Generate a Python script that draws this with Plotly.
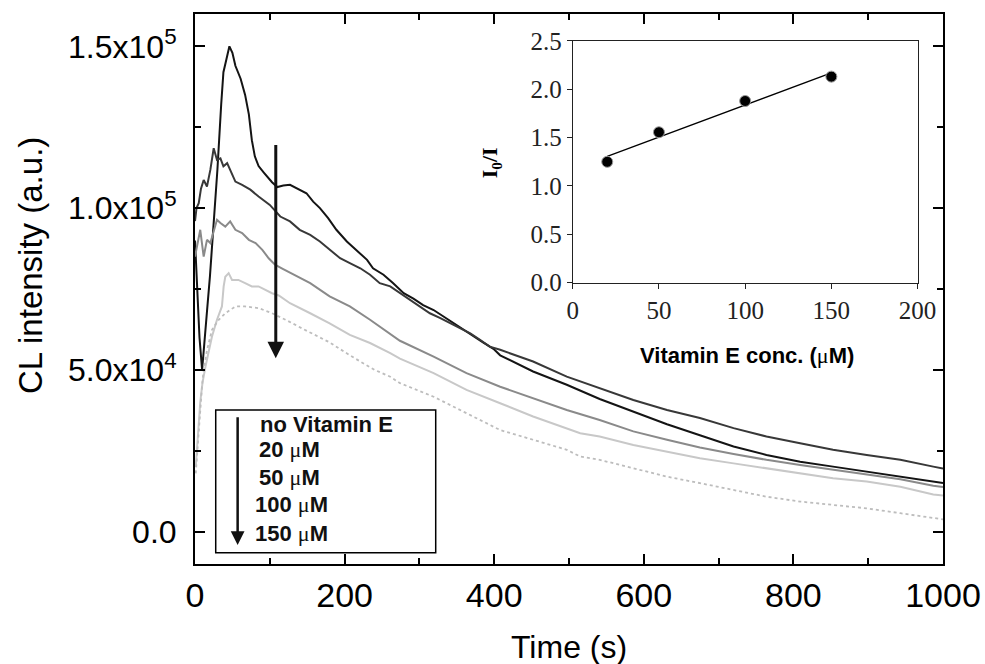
import numpy as np
import plotly.graph_objects as go

# ---------------- main panel data ----------------
t_novit = [0, 3, 6, 9.5, 12, 16, 20, 26, 30, 35, 38, 42, 46, 50, 54, 61, 67, 72, 76, 80, 85, 92,
           103, 110, 118, 127, 140, 149, 158, 167, 178, 189, 203, 216, 230, 238, 252, 265, 279,
           292, 305, 319, 332, 345, 359, 372, 385, 399, 408, 452, 497, 541, 586, 631, 675, 720,
           764, 809, 853, 898, 943, 987, 1000]
cl_novit = [90000, 75000, 60000, 50000, 56000, 68000, 79000, 98000, 112000, 132000, 142000, 146000,
            150000, 148000, 144000, 140000, 135000, 129000, 121000, 116000, 113000, 111000,
            108000, 106500, 107000, 107200, 105600, 104600, 102000, 100000, 96900, 93300, 89700,
            87100, 84000, 81400, 79400, 76800, 73700, 72000, 70000, 68500, 66500, 64400, 62400,
            60500, 58500, 56500, 54500, 49500, 45400, 41000, 37000, 33200, 29800, 26300,
            23700, 21600, 20100, 18600, 17000, 15500, 15000]

t_20 = [0, 2, 5, 8, 11.6, 16, 20.5, 25, 29.4, 34, 38, 43, 47, 54, 63, 74, 85, 100, 114, 127, 140,
        154, 167, 180, 194, 207, 221, 234, 247, 261, 274, 287, 301, 314, 328, 341, 354, 368, 381,
        394, 408, 452, 497, 541, 586, 631, 675, 720, 764, 809, 853, 898, 943, 987, 1000]
cl_20 = [96000, 100000, 101500, 106000, 108700, 106700, 111800, 118500, 114900, 115400, 112900,
         113900, 111800, 108200, 107200, 105700, 103600, 101000, 97400, 95900, 93300, 91700,
         89700, 87100, 84500, 83000, 81400, 79400, 76800, 75800, 73700, 71600, 69600, 67500,
         66000, 64400, 62900, 61300, 59300, 57200, 56200, 52600, 47900, 44300, 40700, 37600,
         35100, 32000, 29400, 27300, 25300, 23700, 22200, 20100, 19500]

t_50 = [0, 2.7, 7, 11.6, 16, 20.5, 25, 29.4, 34, 40.5, 47, 54, 63, 72, 81, 90, 98.5, 107, 116, 127,
        154, 180, 207, 234, 261, 274, 319, 363, 408, 452, 497, 541, 586, 631, 675, 720, 764, 809,
        853, 898, 943, 987, 1000]
cl_50 = [85000, 88100, 93300, 85000, 90200, 89200, 93300, 96400, 95400, 94300, 95900, 93300, 92300,
         90200, 89200, 87100, 84500, 82500, 81400, 80000, 76800, 72700, 69600, 65500, 61000,
         59000, 54100, 49000, 44800, 41200, 37600, 34500, 31000, 28400, 26000, 24000, 22200,
         20600, 19100, 17800, 16200, 14200, 13800]

t_100 = [1, 4, 7, 10, 14, 22.7, 29.4, 36, 38.3, 40.5, 45, 49.5, 58, 67, 76, 85, 94, 103, 112, 127,
         154, 180, 207, 234, 261, 274, 319, 363, 408, 452, 515, 541, 586, 631, 675, 720, 764, 809,
         853, 898, 943, 987, 1000]
cl_100 = [20000, 30000, 40000, 46000, 51000, 60300, 65500, 69600, 75800, 78800, 79900, 77800,
          77800, 76800, 75800, 75800, 74700, 73700, 73000, 70600, 67500, 64400, 60800, 58300,
          55200, 53500, 49000, 43800, 39700, 35600, 30400, 29400, 26800, 24700, 22700, 21100,
          19600, 18100, 16500, 15500, 13900, 11500, 11200]

t_150 = [1, 4, 7, 9.4, 11.6, 16, 22.7, 31.7, 40.5, 54, 67, 85, 103, 121, 150, 180, 207, 240, 261,
         274, 319, 363, 408, 452, 497, 515, 541, 586, 631, 675, 720, 764, 809, 853, 898, 943, 987,
         1000]
cl_150 = [18000, 28000, 38000, 45000, 50000, 56000, 62400, 65500, 67500, 69600, 69600, 69100,
          67500, 65500, 62000, 58500, 54500, 50000, 47900, 45900, 41700, 36600, 31400, 28400,
          25300, 23200, 22200, 19600, 17000, 15000, 12900, 10800, 9300, 8300, 7200, 5700, 4100,
          3800]

series_names = ["no Vitamin E", "20 µM", "50 µM", "100 µM", "150 µM"]
series_colors = ["#141414", "#383838", "#8a8a8a", "#c8c8c8", "#bdbdbd"]

y_tickvals = [0, 50000, 100000, 150000]
y_ticktext = ["0.0", "5.0x10<sup>4</sup>", "1.0x10<sup>5</sup>", "1.5x10<sup>5</sup>"]
x_tickvals = [0, 200, 400, 600, 800, 1000]

# ---------------- inset data ----------------
vitE_conc = [20, 50, 100, 150]
i0_over_i = [1.25, 1.556, 1.879, 2.131]

fig = go.Figure()

series = [(t_novit, cl_novit), (t_20, cl_20), (t_50, cl_50), (t_100, cl_100), (t_150, cl_150)]
for i, ((tx, cy), name, col) in enumerate(zip(series, series_names, series_colors)):
    fig.add_trace(go.Scatter(
        x=tx, y=cy, mode="lines", name=name,
        line=dict(color=col, width=2 if i < 4 else 1.8, dash="dot" if i == 4 else "solid"),
        xaxis="x", yaxis="y", hoverinfo="skip"))

# inset linear fit (computed from the inset data)
slope, intercept = np.polyfit(vitE_conc, i0_over_i, 1)
fit_x = [min(vitE_conc), max(vitE_conc)]
fit_y = [slope * v + intercept for v in fit_x]
fig.add_trace(go.Scatter(x=fit_x, y=fit_y, mode="lines",
                         line=dict(color="black", width=1.3),
                         xaxis="x2", yaxis="y2", hoverinfo="skip"))
fig.add_trace(go.Scatter(x=vitE_conc, y=i0_over_i, mode="markers",
                         marker=dict(color="black", size=11, line=dict(color="#9a9a9a", width=1)),
                         xaxis="x2", yaxis="y2", hoverinfo="skip", cliponaxis=False))

main_font = "Liberation Sans, Arial, sans-serif"
serif_font = "Liberation Serif, Times New Roman, serif"

fig.update_layout(
    width=985, height=664,
    margin=dict(l=195, r=42, t=14, b=100, autoexpand=False),
    paper_bgcolor="white", plot_bgcolor="white",
    showlegend=False,
    font=dict(family=main_font, color="black"),
    xaxis=dict(
        domain=[0, 1], range=[0, 1000], tickmode="array", tickvals=x_tickvals,
        ticks="inside", ticklen=10, tickwidth=2, tickcolor="black",
        minor=dict(tickmode="array", tickvals=[100, 300, 500, 700, 900],
                   ticks="inside", ticklen=6, tickwidth=2, tickcolor="black"),
        showline=True, linewidth=2, linecolor="black", mirror="allticks",
        showgrid=False, zeroline=False, automargin=False,
        tickfont=dict(size=34, family=main_font, color="black"),
    ),
    yaxis=dict(
        domain=[0, 1], range=[-10000, 160000], tickmode="array",
        tickvals=y_tickvals, ticktext=y_ticktext,
        ticks="inside", ticklen=10, tickwidth=2, tickcolor="black",
        minor=dict(tickmode="array", tickvals=[25000, 75000, 125000],
                   ticks="inside", ticklen=6, tickwidth=2, tickcolor="black"),
        showline=True, linewidth=2, linecolor="black", mirror="allticks",
        showgrid=False, zeroline=False, automargin=False, ticklabelstandoff=10,
        tickfont=dict(size=32, family=main_font, color="black"),
    ),
    xaxis2=dict(
        domain=[0.505, 0.966], range=[0, 200], anchor="y2",
        tickvals=[0, 50, 100, 150, 200], ticks="outside", ticklen=5, tickwidth=1.2,
        tickcolor="#222", showline=True, linewidth=1.2, linecolor="#222", mirror=True,
        showgrid=False, zeroline=False, automargin=False,
        tickfont=dict(size=25, family=serif_font, color="#222"),
    ),
    yaxis2=dict(
        domain=[0.5115, 0.951], range=[0, 2.5], anchor="x2",
        tickvals=[0, 0.5, 1.0, 1.5, 2.0, 2.5], tickformat=".1f",
        ticks="outside", ticklen=5, tickwidth=1.2,
        tickcolor="#222", showline=True, linewidth=1.2, linecolor="#222", mirror=True,
        showgrid=False, zeroline=False, automargin=False,
        tickfont=dict(size=25, family=serif_font, color="#222"),
    ),
)

mu = '<span style="font-family:Liberation Serif;font-weight:normal">μ</span>'

annotations = [
    # axis titles
    dict(text="CL intensity (a.u.)", xref="paper", yref="paper", x=-0.219, y=0.542,
         textangle=-90, showarrow=False, font=dict(size=33, family=main_font),
         xanchor="center", yanchor="middle"),
    dict(text="Time (s)", xref="paper", yref="paper", x=0.5, y=-0.151,
         showarrow=False, font=dict(size=32, family=main_font),
         xanchor="center", yanchor="middle"),
    # inset titles
    dict(text="<b>I<sub>0</sub>/I</b>", xref="paper", yref="paper", x=0.396, y=0.729,
         textangle=-90, showarrow=False, font=dict(size=22, family=serif_font),
         xanchor="center", yanchor="middle"),
    dict(text="<b>Vitamin E conc. (" + mu + "M)</b>", xref="paper", yref="paper",
         x=0.738, y=0.38, showarrow=False, font=dict(size=22, family=main_font),
         xanchor="center", yanchor="middle"),
    # main downward arrow
    dict(x=108, y=53600, ax=108, ay=120000, xref="x", yref="y", axref="x", ayref="y",
         showarrow=True, arrowhead=2, arrowsize=1.1, arrowwidth=3, arrowcolor="#111",
         text="", standoff=0, startstandoff=0),
    # legend arrow
    dict(x=57, y=-4100, ax=57, ay=35800, xref="x", yref="y", axref="x", ayref="y",
         showarrow=True, arrowhead=2, arrowsize=1.1, arrowwidth=2.5, arrowcolor="#111",
         text="", standoff=0, startstandoff=0),
]

legend_lines = [
    ("<b>no Vitamin E</b>", 83.8, 33000),
    ("<b>20 " + mu + "M</b>", 82.5, 25300),
    ("<b>50 " + mu + "M</b>", 82.5, 16600),
    ("<b>100 " + mu + "M</b>", 77.1, 8300),
    ("<b>150 " + mu + "M</b>", 77.1, -600),
]
for txt, lx, ly in legend_lines:
    annotations.append(dict(text=txt, x=lx, y=ly, xref="x", yref="y", showarrow=False,
                            xanchor="left", yanchor="middle",
                            font=dict(size=22, family=main_font, color="#111")))

fig.update_layout(annotations=annotations)

# legend box
fig.add_shape(type="rect", xref="x", yref="y", x0=27.7, x1=321.8, y0=-6500, y1=37600,
              line=dict(color="black", width=1.5), fillcolor="rgba(0,0,0,0)")

fig.write_html(
    "out.html",
    config={"displayModeBar": False},
    post_script="document.body.style.margin='0';document.body.style.overflow='hidden';",
)
